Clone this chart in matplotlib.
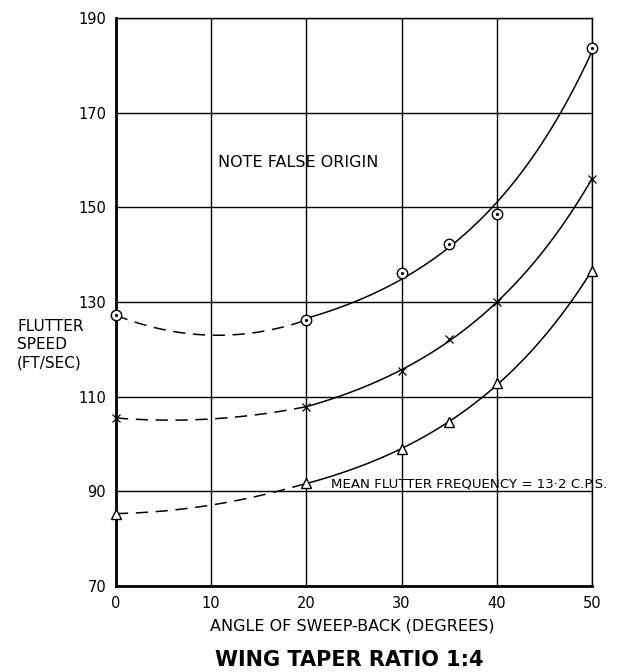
import numpy as np
import matplotlib
matplotlib.use("Agg")
import matplotlib.pyplot as plt

# Measured flutter speeds (ft/sec) against sweep-back angle (degrees)
sweep = [0, 20, 30, 35, 40, 50]
speed_circle = [127.2, 126.2, 136.2, 142.3, 148.7, 183.6]
speed_cross = [105.5, 107.9, 115.4, 122.1, 130.0, 156.0]
speed_triangle = [85.3, 91.7, 98.9, 104.6, 112.8, 136.6]

# Faired (dashed) extrapolation between 0 and 20 degrees
dash_x = [0, 10, 20]
dash_circle = [127.2, 123.0, 126.2]
dash_cross = [105.5, 105.3, 107.9]
dash_triangle = [85.3, 87.1, 91.7]

x_ticks = [0, 10, 20, 30, 40, 50]
y_ticks = [70, 90, 110, 130, 150, 170, 190]


def faired_exp(x, y, n=200):
    """Least-squares fairing y = a + b*exp(k*(x - x0)), k chosen by search."""
    x = np.asarray(x, float)
    y = np.asarray(y, float)
    x0 = x[0]
    best = None
    for k in np.linspace(0.005, 0.2, 400):
        A = np.column_stack([np.ones_like(x), np.exp(k * (x - x0))])
        coef, *_ = np.linalg.lstsq(A, y, rcond=None)
        # keep the curve anchored near the first reading
        r = np.sum((A @ coef - y) ** 2) + 4 * (A[0] @ coef - y[0]) ** 2
        if best is None or r < best[0]:
            best = (r, k, coef)
    _, k, coef = best
    xs = np.linspace(x[0], x[-1], n)
    return xs, coef[0] + coef[1] * np.exp(k * (xs - x0))


def faired_poly(x, y, deg, n=200):
    coef = np.polyfit(x, y, deg)
    xs = np.linspace(min(x), max(x), n)
    return xs, np.polyval(coef, xs)


fig = plt.figure(figsize=(6.32, 6.72), dpi=100)
ax = fig.add_axes([0.1835, 0.128, 0.7532, 0.845])
ax.set_xlim(0, 50)
ax.set_ylim(70, 190)

ax.set_xticks(x_ticks)
ax.set_yticks(y_ticks)
ax.grid(True, color="black", linewidth=1.0)
ax.tick_params(length=0, labelsize=10.5, pad=7)
for side in ("top", "right"):
    ax.spines[side].set_linewidth(1.0)
for side in ("left", "bottom"):
    ax.spines[side].set_linewidth(2.0)

series = [
    (speed_circle, dash_circle, "o"),
    (speed_cross, dash_cross, "x"),
    (speed_triangle, dash_triangle, "^"),
]
for vals, dvals, mk in series:
    xs, ys = faired_exp(sweep[1:], vals[1:])
    ax.plot(xs, ys, color="black", linewidth=1.1, zorder=3)
    dx, dy = faired_poly(dash_x, dvals, 2)
    ax.plot(dx, dy, color="black", linewidth=1.1, linestyle=(0, (8, 5)), zorder=3)
    if mk == "x":
        ax.plot(sweep, vals, linestyle="none", marker="x", markersize=6,
                color="black", markeredgewidth=0.9, zorder=4, clip_on=False)
    else:
        ax.plot(sweep, vals, linestyle="none", marker=mk, markersize=7.5,
                markerfacecolor="white", markeredgecolor="black",
                markeredgewidth=1.0, zorder=4, clip_on=False)
    if mk == "o":
        ax.plot(sweep, vals, linestyle="none", marker=".", markersize=2.5,
                color="black", zorder=5, clip_on=False)

ax.text(10.7, 159.5, "NOTE FALSE ORIGIN", fontsize=11.5, ha="left", va="center")
ax.text(22.6, 90.25, "MEAN FLUTTER FREQUENCY = 13·2 C.P.S.", fontsize=9.6,
        ha="left", va="bottom", clip_on=False)

fig.text(0.027, 0.487, "FLUTTER\nSPEED\n(FT/SEC)", fontsize=11,
         ha="left", va="center", linespacing=1.25)
fig.text(0.557, 0.068, "ANGLE OF SWEEP-BACK (DEGREES)", fontsize=11.5,
         ha="center", va="center")
fig.text(0.553, 0.018, "WING TAPER RATIO 1:4", fontsize=15, fontweight="bold",
         ha="center", va="center")

fig.savefig("out.png", dpi=100, facecolor="white")
